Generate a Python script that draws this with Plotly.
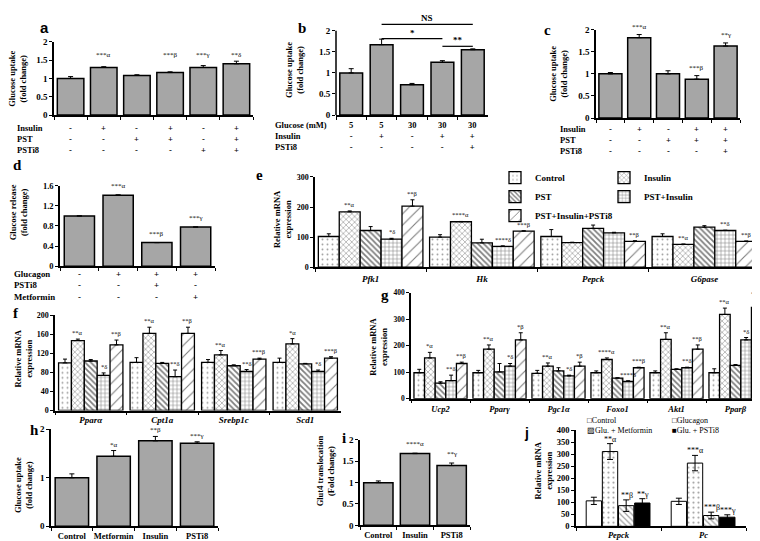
import plotly.graph_objects as go

W, H = 760, 541
SERIF = "Liberation Serif, Times New Roman, serif"
SANS = "Liberation Sans, Arial, sans-serif"

# ===================== DATA =====================
# (a) glucose uptake
a_groups = ["Control", "Insulin", "PST", "PST+Insulin", "PSTi8", "PST+Insulin+PSTi8"]
a_row_names = ["Insulin", "PST", "PSTi8"]
a_insulin = ["-", "+", "-", "+", "-", "+"]
a_pst = ["-", "-", "+", "+", "-", "+"]
a_psti8 = ["-", "-", "-", "-", "+", "+"]
a_values = [1.00, 1.30, 1.08, 1.16, 1.30, 1.40]
a_errors = [0.05, 0.02, 0.02, 0.02, 0.05, 0.07]
a_sig = ["", "***α", "", "***β", "***γ", "**δ"]
a_yticks = [0, 0.5, 1, 1.5, 2]

# (b) glucose uptake under high glucose
b_groups = ["G5", "G5+Insulin", "G30", "G30+Insulin", "G30+Insulin+PSTi8"]
b_row_names = ["Glucose (mM)", "Insulin", "PSTi8"]
b_glucose = ["5", "5", "30", "30", "30"]
b_insulin = ["-", "+", "-", "+", "+"]
b_psti8 = ["-", "-", "-", "-", "+"]
b_values = [1.00, 1.67, 0.72, 1.25, 1.55]
b_errors = [0.10, 0.13, 0.03, 0.04, 0.02]
b_bracket_from = ["G5+Insulin", "G5+Insulin", "G30+Insulin"]
b_bracket_to = ["G30+Insulin+PSTi8", "G30+Insulin", "G30+Insulin+PSTi8"]
b_bracket_level = [2.15, 1.81, 1.63]
b_bracket_text = ["NS", "*", "**"]
b_yticks = [0, 0.5, 1, 1.5, 2]

# (c) glucose uptake
c_groups = ["Control", "Insulin", "PST", "PST+Insulin", "PST+Insulin+PSTi8"]
c_row_names = ["Insulin", "PST", "PSTi8"]
c_insulin = ["-", "+", "-", "+", "+"]
c_pst = ["-", "-", "+", "+", "+"]
c_psti8 = ["-", "-", "-", "-", "+"]
c_values = [1.00, 1.82, 1.00, 0.88, 1.63]
c_errors = [0.03, 0.07, 0.07, 0.08, 0.07]
c_sig = ["", "***α", "", "***β", "**γ"]
c_yticks = [0, 0.5, 1, 1.5, 2]

# (d) glucose release
d_groups = ["Control", "Glucagon", "Glucagon+PSTi8", "Glucagon+Metformin"]
d_row_names = ["Glucagon", "PSTi8", "Metformin"]
d_glucagon = ["-", "+", "+", "+"]
d_psti8 = ["-", "-", "+", "-"]
d_metformin = ["-", "-", "-", "+"]
d_values = [1.00, 1.41, 0.47, 0.78]
d_errors = [0.0, 0.01, 0.0, 0.0]
d_sig = ["", "***α", "***β", "***γ"]
d_yticks = [0, 0.4, 0.8, 1.2, 1.6]

# five-series treatments shared by e, f, g
series5 = ["Control", "Insulin", "PST", "PST+Insulin", "PST+Insulin+PSTi8"]

# (e) glycolytic / gluconeogenic genes
e_genes = ["Pfk1", "Hk", "Pepck", "G6pase"]
e_control = [102, 100, 102, 102]
e_insulin = [184, 151, 82, 76]
e_pst = [122, 81, 129, 133]
e_pst_ins = [93, 69, 114, 122]
e_pst_ins_i8 = [203, 120, 86, 86]
e_control_err = [9, 8, 23, 9]
e_insulin_err = [3, 1, 1, 1]
e_pst_err = [13, 12, 11, 5]
e_pst_ins_err = [3, 2, 2, 1]
e_pst_ins_i8_err = [21, 1, 2, 1]
e_insulin_sig = ["**α", "****α", "", "**α"]
e_pst_ins_sig = ["*δ", "****δ", "", "**δ"]
e_pst_ins_i8_sig = ["**β", "***β", "**β", "**β"]
e_yticks = [0, 100, 200, 300]

# (f) lipid metabolism genes
f_genes = ["Pparα", "Cpt1a", "Srebp1c", "Scd1"]
f_control = [100, 101, 101, 101]
f_insulin = [147, 162, 117, 140]
f_pst = [104, 99, 94, 98]
f_pst_ins = [74, 71, 82, 82]
f_pst_ins_i8 = [138, 162, 108, 110]
f_control_err = [8, 10, 6, 9]
f_insulin_err = [3, 13, 9, 11]
f_pst_err = [3, 2, 2, 1]
f_pst_ins_err = [5, 14, 4, 3]
f_pst_ins_i8_err = [10, 13, 2, 3]
f_insulin_sig = ["**α", "**α", "**α", "*α"]
f_pst_ins_sig = ["*δ", "**δ", "**δ", "*δ"]
f_pst_ins_i8_sig = ["**β", "**β", "***β", "***β"]
f_yticks = [0, 40, 80, 120, 160, 200]

# (g) energy metabolism genes
g_genes = ["Ucp2", "Pparγ", "Pgc1α", "Foxo1", "Akt1", "Pparβ"]
g_control = [98, 98, 96, 98, 98, 98]
g_insulin = [154, 187, 123, 148, 224, 318]
g_pst = [59, 101, 105, 78, 111, 126]
g_pst_ins = [68, 123, 86, 65, 117, 222]
g_pst_ins_i8 = [133, 222, 123, 117, 187, 345]
g_control_err = [13, 9, 11, 7, 7, 15]
g_insulin_err = [21, 16, 12, 6, 25, 24]
g_pst_err = [5, 32, 12, 1, 2, 3]
g_pst_ins_err = [21, 10, 3, 3, 2, 9]
g_pst_ins_i8_err = [5, 27, 15, 2, 16, 27]
g_insulin_sig = ["*α", "**α", "**α", "****α", "**α", "**α"]
g_pst_ins_sig = ["**δ", "*δ", "*δ", "****δ", "**δ", "*δ"]
g_pst_ins_i8_sig = ["**β", "*β", "*β", "***β", "**β", "**β"]
g_yticks = [0, 100, 200, 300, 400]

# (h) glucose uptake
h_groups = ["Control", "Metformin", "Insulin", "PSTi8"]
h_values = [1.00, 1.44, 1.76, 1.71]
h_errors = [0.08, 0.12, 0.09, 0.03]
h_sig = ["", "*α", "**β", "***γ"]
h_yticks = [0, 1, 2]

# (i) Glut4 translocation
i_groups = ["Control", "Insulin", "PSTi8"]
i_values = [1.00, 1.68, 1.40]
i_errors = [0.04, 0.01, 0.06]
i_sig = ["", "****α", "**γ"]
i_yticks = [0, 0.5, 1, 1.5, 2]

# (j) gluconeogenic genes
j_genes = ["Pepck", "Pc"]
j_series = ["Control", "Glucagon", "Glu. + Metformin", "Glu. + PSTi8"]
j_control = [106, 104]
j_glucagon = [311, 263]
j_metformin = [86, 45]
j_psti8 = [97, 38]
j_control_err = [15, 13]
j_glucagon_err = [33, 32]
j_metformin_err = [24, 14]
j_psti8_err = [18, 10]
j_glucagon_sig = ["**α", "***α"]
j_metformin_sig = ["**β", "***β"]
j_psti8_sig = ["**γ", "***γ"]
j_yticks = [0, 50, 100, 150, 200, 250, 300, 350, 400]

# ===================== STYLE / LAYOUT =====================
BAR_GRAY = "#a6a6a6"
PAT5 = [
    dict(shape=".", size=5, solidity=0.12, fgcolor="#444444", bgcolor="white"),
    dict(shape="x", size=4, solidity=0.3, fgcolor="#333333", bgcolor="white"),
    dict(shape="\\", size=4, solidity=0.45, fgcolor="black", bgcolor="white"),
    dict(shape="+", size=4, solidity=0.25, fgcolor="black", bgcolor="white"),
    dict(shape="/", size=8, solidity=0.14, fgcolor="black", bgcolor="white"),
]
PATJ = [
    dict(color="white", pattern=None),
    dict(color="white", pattern=dict(shape=".", size=5, solidity=0.15, fgcolor="#444444", bgcolor="white")),
    dict(color="white", pattern=dict(shape="\\", size=4, solidity=0.3, fgcolor="#444444", bgcolor="white")),
    dict(color="black", pattern=None),
]
J_GLYPHS = ["□", "□", "▨", "■"]

layout = dict(width=W, height=H, margin=dict(l=0, r=0, t=0, b=0),
              paper_bgcolor="white", plot_bgcolor="white", barmode="overlay",
              showlegend=True, font=dict(family=SERIF, color="black"))
annotations, shapes, traces = [], [], []


def fx(p):
    return p / W


def fy(p):
    return 1 - p / H


def ids(n):
    s = "" if n == 1 else str(n)
    return "x" + s, "y" + s, "xaxis" + s, "yaxis" + s


def make_axes(n, xbox, ybox, cats, yrange, yticks, yfont, xfont=9, ticktext=None,
              xitalic=False, yline=True, standoff=0):
    xid, yid, xk, yk = ids(n)
    layout[xk] = dict(domain=[fx(xbox[0]), fx(xbox[1])], anchor=yid, type="category",
                      categoryorder="array", categoryarray=cats,
                      range=[-0.5, len(cats) - 0.5], tickmode="array",
                      tickvals=cats, ticktext=cats,
                      showticklabels=ticktext is not False, tickangle=0,
                      showline=True, linecolor="black", linewidth=1.5, ticks="outside",
                      tickson="boundaries", ticklen=3, tickwidth=1,
                      tickcolor="black", showgrid=False, zeroline=False,
                      fixedrange=True, ticklabelstandoff=standoff,
                      tickfont=dict(family=SERIF, size=xfont, color="black",
                                    weight="bold",
                                    style="italic" if xitalic else "normal"))
    layout[yk] = dict(domain=[fy(ybox[1]), fy(ybox[0])], anchor=xid, range=yrange,
                      tickmode="array", tickvals=yticks, showline=yline,
                      linecolor="black", linewidth=1.5, ticks="outside",
                      ticklen=3, tickwidth=1, tickcolor="black", showgrid=False,
                      zeroline=False, fixedrange=True,
                      tickfont=dict(family=SERIF, size=yfont, color="black",
                                    weight="bold"))
    return xid, yid


def note(x, y, text, xref, yref, size=7, yanchor="bottom", yshift=1,
         xanchor="center", family=SERIF, bold=False, angle=0, align="center",
         pad=1):
    annotations.append(dict(x=x, y=y, xref=xref, yref=yref,
                            text=("<b>%s</b>" % text) if bold else text,
                            showarrow=False, xanchor=xanchor, yanchor=yanchor,
                            yshift=yshift, textangle=angle, align=align,
                            borderpad=pad,
                            font=dict(family=family, size=size, color="black")))


def single_bars(xid, yid, cats, vals, errs, width):
    traces.append(go.Bar(x=cats, y=vals, xaxis=xid, yaxis=yid, width=width,
                         offset=-width / 2,
                         marker=dict(color=BAR_GRAY, line=dict(color="black", width=1.5)),
                         error_y=dict(type="data", array=errs, arrayminus=[0] * len(errs),
                                      symmetric=False, color="black", thickness=1, width=2.5),
                         showlegend=False, hoverinfo="skip"))


def grouped_bars(xid, yid, cats, vals_list, errs_list, sig_list, frac,
                 legend_cfg=None, sig_size=6.5):
    k = len(vals_list)
    w = frac / k
    for s in range(k):
        off = -frac / 2 + s * w
        if legend_cfg is not None:
            kw = dict(showlegend=True, legend=legend_cfg[s], name=series5[s])
        else:
            kw = dict(showlegend=False, name=series5[s])
        traces.append(go.Bar(x=cats, y=vals_list[s], xaxis=xid, yaxis=yid, width=w,
                             offset=off,
                             marker=dict(color="white", pattern=PAT5[s],
                                         line=dict(color="black", width=1.3)),
                             error_y=dict(type="data", array=errs_list[s],
                                          arrayminus=[0] * len(cats), symmetric=False,
                                          color="black", thickness=1, width=2),
                             hoverinfo="skip", **kw))
        if sig_list[s] is not None:
            for gi, t in enumerate(sig_list[s]):
                if t:
                    note(gi + off + w / 2, vals_list[s][gi] + errs_list[s][gi], t,
                         xid, yid, size=sig_size)


def treatment_table(xid, cats, names, rows, left_px, first_center_px, size=8.5):
    """Row names on the left plus one +/- column under every bar."""
    top = fy(first_center_px - (1 + 0.65 * size))
    note(fx(left_px), top, "<br>".join(names), "paper", "paper", size=size,
         yanchor="top", yshift=0, xanchor="left", bold=True, align="left")
    for ci, cat in enumerate(cats):
        note(cat, top, "<br>".join(r[ci] for r in rows), xid, "paper", size=size,
             yanchor="top", yshift=0, bold=True)


def y_title(text, xpx, ypx, size=8.5):
    note(fx(xpx), fy(ypx), text, "paper", "paper", size=size, yanchor="middle",
         yshift=0, bold=True, angle=-90)


def letter(t, xpx, ypx, family=SERIF, size=15):
    note(fx(xpx), fy(ypx), t, "paper", "paper", size=size, yanchor="middle",
         yshift=0, bold=True, family=family)


# ---------- panel a ----------
xa, ya = make_axes(1, (46, 245), (29.3, 104), a_groups, [0, 2], a_yticks, 9,
                   ticktext=False)
single_bars(xa, ya, a_groups, a_values, a_errors, 0.8)
for g, t in zip(a_groups, a_sig):
    if t:
        note(g, 1.63, t, xa, ya, size=7, yanchor="middle", yshift=0)
treatment_table(xa, a_groups, a_row_names, [a_insulin, a_pst, a_psti8], 7, 117)
y_title("Glucose uptake<br>(fold change)", 10, 67)
letter("a", 36, 15, family=SANS, size=15)

# ---------- panel b ----------
xb, yb = make_axes(2, (328, 480), (3, 104), b_groups, [0, 2.35], b_yticks, 9,
                   ticktext=False, yline=False)
single_bars(xb, yb, b_groups, b_values, b_errors, 0.75)
shapes.append(dict(type="line", xref=xb + " domain", yref=yb, x0=0, x1=0, y0=0, y1=2,
                   line=dict(color="black", width=1.5)))
for f0, f1, lv, t in zip(b_bracket_from, b_bracket_to, b_bracket_level, b_bracket_text):
    i0, i1 = b_groups.index(f0), b_groups.index(f1)
    shapes.append(dict(type="line", xref=xb, yref=yb, x0=i0, x1=i1, y0=lv, y1=lv,
                       line=dict(color="black", width=1.2)))
    note((i0 + i1) / 2, lv, t, xb, yb, size=9, yanchor="bottom", yshift=-1, bold=True)
treatment_table(xb, b_groups, b_row_names, [b_glucose, b_insulin, b_psti8], 265, 114)
y_title("Glucose uptake<br>(fold change)", 287, 58)
letter("b", 294, 15)

# ---------- panel c ----------
xc, yc = make_axes(3, (588, 732), (17, 107), c_groups, [0, 2], c_yticks, 9,
                   ticktext=False)
single_bars(xc, yc, c_groups, c_values, c_errors, 0.8)
for g, v, e, t in zip(c_groups, c_values, c_errors, c_sig):
    if t:
        note(g, v + e, t, xc, yc, size=7, yshift=2)
treatment_table(xc, c_groups, c_row_names, [c_insulin, c_pst, c_psti8], 550, 118)
y_title("Glucose uptake<br>(fold change)", 551, 62)
letter("c", 539, 17)

# ---------- panel d ----------
xd_, yd_ = make_axes(4, (52, 207), (176, 258), d_groups, [0, 1.6], d_yticks, 8.5,
                     ticktext=False)
single_bars(xd_, yd_, d_groups, d_values, d_errors, 0.78)
for g, v, e, t in zip(d_groups, d_values, d_errors, d_sig):
    if t:
        note(g, v + e, t, xd_, yd_, size=7, yshift=3)
treatment_table(xd_, d_groups, d_row_names, [d_glucagon, d_psti8, d_metformin], 4, 265,
                size=8.8)
y_title("Glucose release<br>(fold change)", 10, 203)
letter("d", 9, 155)

# ---------- panel e ----------
xe, ye = make_axes(5, (307, 752), (167, 259), e_genes, [0, 300], e_yticks, 8, 9,
                   xitalic=True, standoff=2)
grouped_bars(xe, ye, e_genes,
             [e_control, e_insulin, e_pst, e_pst_ins, e_pst_ins_i8],
             [e_control_err, e_insulin_err, e_pst_err, e_pst_ins_err, e_pst_ins_i8_err],
             [None, e_insulin_sig, None, e_pst_ins_sig, e_pst_ins_i8_sig], 0.94,
             legend_cfg=["legend", "legend2", "legend", "legend2", "legend"])
y_title("Relative mRNA<br>expression", 274, 210)
letter("e", 251, 165)

# ---------- panel f ----------
xf, yf = make_axes(6, (47, 333), (308, 405), f_genes, [0, 200], f_yticks, 8, 9,
                   xitalic=True, standoff=0)
grouped_bars(xf, yf, f_genes,
             [f_control, f_insulin, f_pst, f_pst_ins, f_pst_ins_i8],
             [f_control_err, f_insulin_err, f_pst_err, f_pst_ins_err, f_pst_ins_i8_err],
             [None, f_insulin_sig, None, f_pst_ins_sig, f_pst_ins_i8_sig], 0.9)
y_title("Relative mRNA<br>expression", 15, 352)
letter("f", 8, 306)

# ---------- panel g ----------
xg, yg = make_axes(7, (403, 757), (285, 393), g_genes, [0, 400], g_yticks, 7.5, 8.5,
                   xitalic=True, standoff=1)
grouped_bars(xg, yg, g_genes,
             [g_control, g_insulin, g_pst, g_pst_ins, g_pst_ins_i8],
             [g_control_err, g_insulin_err, g_pst_err, g_pst_ins_err, g_pst_ins_i8_err],
             [None, g_insulin_sig, None, g_pst_ins_sig, g_pst_ins_i8_sig], 0.9)
y_title("Relative mRNA<br>expression", 371, 340)
letter("g", 377, 287)

# ---------- panel h ----------
xh, yh = make_axes(8, (43, 210), (424, 523), h_groups, [0, 2], h_yticks, 9, 8.5,
                   standoff=1)
single_bars(xh, yh, h_groups, h_values, h_errors, 0.8)
for g, v, e, t in zip(h_groups, h_values, h_errors, h_sig):
    if t:
        note(g, v + e, t, xh, yh, size=7, yshift=0)
y_title("Glucose uptake<br>(fold change)", 15, 481)
letter("h", 26, 425)

# ---------- panel i ----------
xi, yi = make_axes(9, (352, 462), (435, 522), i_groups, [0, 2], i_yticks, 9, 8.5,
                   standoff=1)
single_bars(xi, yi, i_groups, i_values, i_errors, 0.8)
for g, v, e, t in zip(i_groups, i_values, i_errors, i_sig):
    if t:
        note(g, v + e, t, xi, yi, size=7, yshift=3)
y_title("Glut4 translocation<br>(Fold change)", 317, 467)
letter("i", 336, 433)

# ---------- panel j ----------
xj, yj = make_axes(10, (568, 738), (425, 523), j_genes, [0, 400], j_yticks, 8.5, 8.5,
                   xitalic=True, standoff=0)
j_vals = [j_control, j_glucagon, j_metformin, j_psti8]
j_errs = [j_control_err, j_glucagon_err, j_metformin_err, j_psti8_err]
j_sigs = [None, j_glucagon_sig, j_metformin_sig, j_psti8_sig]
jfrac = 0.76
jw = jfrac / len(j_series)
for s in range(len(j_series)):
    off = -jfrac / 2 + s * jw
    st = PATJ[s]
    mk = dict(color=st["color"], line=dict(color="black", width=1))
    if st["pattern"]:
        mk["pattern"] = st["pattern"]
    traces.append(go.Bar(x=j_genes, y=j_vals[s], xaxis=xj, yaxis=yj, width=jw * 0.95,
                         offset=off, marker=mk, name=j_series[s], showlegend=False,
                         error_y=dict(type="data", array=j_errs[s], symmetric=True,
                                      color="black", thickness=1, width=3),
                         hoverinfo="skip"))
    if j_sigs[s]:
        for gi, t in enumerate(j_sigs[s]):
            note(gi + off + jw / 2, j_vals[s][gi] + j_errs[s][gi], t, xj, yj, size=8,
                 yshift=-1, pad=0)
# two-column text legend of panel j (glyph + name, as in the original figure)
for col, left in enumerate([578, 663]):
    entries = [J_GLYPHS[s] + j_series[s] for s in range(col, len(j_series), 2)]
    note(fx(left), fy(414.5 - 5.2), "<br>".join(entries), "paper", "paper", size=8,
         yanchor="top", yshift=0, xanchor="left", align="left", pad=0)
y_title("Relative mRNA<br>expression", 535, 466)
letter("j", 518, 428, family=SANS, size=14)

# legends of panel e (two columns)
leg_common = dict(orientation="v", xanchor="left", yanchor="top", bgcolor="rgba(0,0,0,0)",
                  itemwidth=30, tracegroupgap=0, traceorder="normal",
                  font=dict(family=SERIF, size=9, color="black", weight="bold"),
                  itemclick=False, itemdoubleclick=False)
layout["legend"] = dict(x=fx(487), y=fy(153), **leg_common)
layout["legend2"] = dict(x=fx(596), y=fy(153), **leg_common)

layout["annotations"] = annotations
layout["shapes"] = shapes

fig = go.Figure(data=traces, layout=layout)
fig.write_html("out.html", config={"displayModeBar": False})
